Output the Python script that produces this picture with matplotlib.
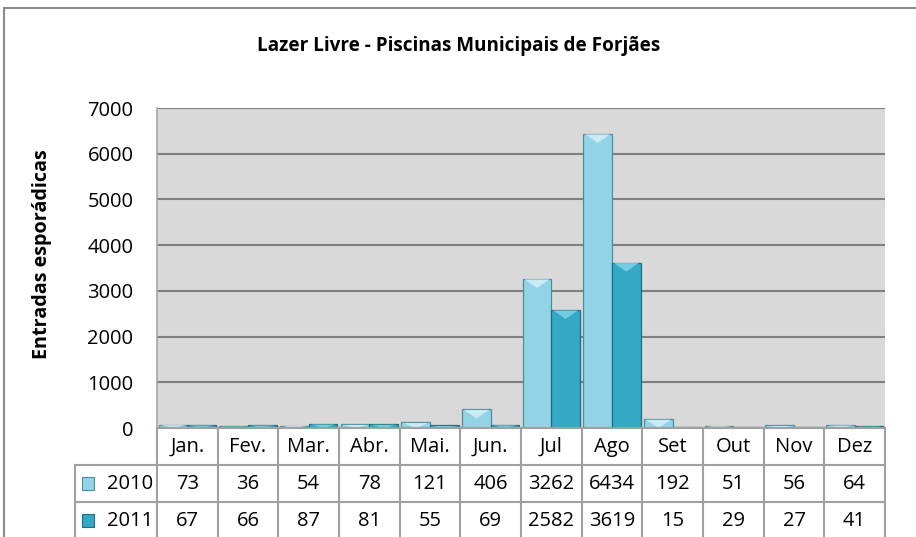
import matplotlib
matplotlib.use("Agg")
import matplotlib.pyplot as plt
from matplotlib.patches import Rectangle, Polygon
import numpy as np

months = ["Jan.", "Fev.", "Mar.", "Abr.", "Mai.", "Jun.", "Jul", "Ago", "Set", "Out", "Nov", "Dez"]
series_names = ["2010", "2011"]
values_2010 = [73, 36, 54, 78, 121, 406, 3262, 6434, 192, 51, 56, 64]
values_2011 = [67, 66, 87, 81, 55, 69, 2582, 3619, 15, 29, 27, 41]
yticks = [0, 1000, 2000, 3000, 4000, 5000, 6000, 7000]
title = "Lazer Livre - Piscinas Municipais de Forjães"
ylabel = "Entradas esporádicas"

plt.rcParams['font.family'] = ['Open Sans', 'DejaVu Sans']

W, H = 916, 537
fig = plt.figure(figsize=(W / 100, H / 100), dpi=100)

def px(x0, y0, x1, y1):
    return [x0 / W, 1 - y1 / H, (x1 - x0) / W, (y1 - y0) / H]

# outer chart border
fig.patches.append(Rectangle((4 / W, -0.1), 1.2, 1 - 8 / H + 0.1, transform=fig.transFigure,
                             fill=False, edgecolor="#8c8c8c", linewidth=1.5))

L, R, T, B = 157, 885, 108, 428
ax = fig.add_axes(px(L, T, R, B))
ax.set_facecolor("#d9d9d9")
n = len(months)
x = np.arange(n)
bw = 0.47
c10, e10, h10 = "#92d4e6", "#4a8ea0", "#d2f0f8"
c11, e11, h11 = "#33a9c6", "#1e6f84", "#7fd3e8"
ymax = 7000
bars10 = ax.bar(x - bw / 2, values_2010, width=bw, color=c10, edgecolor=e10, linewidth=0.9, zorder=3)
bars11 = ax.bar(x + bw / 2, values_2011, width=bw, color=c11, edgecolor=e11, linewidth=0.9, zorder=3)
ax.set_xlim(-0.5, n - 0.5)
ax.set_ylim(0, ymax)

# bevel highlight on top of each bar (size derived from the axes pixel scale)
bevel = 9 / (B - T) * ymax
for bars, hc in ((bars10, h10), (bars11, h11)):
    for b in bars:
        x0, w, h = b.get_x(), b.get_width(), b.get_height()
        d = min(bevel, h)
        tri = Polygon([(x0 + 0.03, h - 10), (x0 + w - 0.03, h - 10), (x0 + w / 2, h - d)],
                      closed=True, facecolor=hc, edgecolor='none', zorder=4, alpha=0.85)
        ax.add_patch(tri)

ax.set_yticks(yticks)
ax.set_yticklabels([str(v) for v in yticks], fontsize=14.5, color="#000000")
ax.tick_params(axis='y', length=0, pad=17)
ax.set_xticks([])
ax.grid(axis='y', color="#7f7f7f", linewidth=1.5, zorder=1)
ax.set_axisbelow(True)
for s in ax.spines.values():
    s.set_visible(False)
ax.spines['left'].set_visible(True)
ax.spines['left'].set_color("#a6a6a6")
ax.spines['left'].set_linewidth(1.2)

fig.text(459 / W, 1 - 46 / H, title, ha='center', va='center', fontsize=13.6, fontweight='bold')
fig.text(42 / W, 1 - 254 / H, ylabel, ha='center', va='center', rotation=90, fontsize=14.2,
         fontweight='bold')

# data table
colw = (R - L) / n
left_x = -0.5 - (L - 75) / colw
tax = fig.add_axes(px(75, 428, R, 539))
tax.set_xlim(left_x, n - 0.5)
tax.set_ylim(3, 0)
tax.axis('off')
lc, lw = "#a0a0a0", 1.5
tax.plot([-0.5, n - 0.5], [0, 0], color=lc, lw=lw, clip_on=False)
for yy in (1, 2, 3):
    tax.plot([left_x, n - 0.5], [yy, yy], color=lc, lw=lw, clip_on=False)
for k in range(n + 1):
    tax.plot([k - 0.5, k - 0.5], [0, 3], color=lc, lw=lw, clip_on=False)
tax.plot([left_x, left_x], [1, 3], color=lc, lw=lw, clip_on=False)
for i, m in enumerate(months):
    tax.text(i, 0.5, m, ha='center', va='center', fontsize=14.5)
for r, (name, vals, col, ec) in enumerate([(series_names[0], values_2010, c10, e10),
                                            (series_names[1], values_2011, c11, e11)]):
    yy = 1.5 + r
    for i, v in enumerate(vals):
        tax.text(i, yy, str(v), ha='center', va='center', fontsize=14.5)
    tax.text(-0.56, yy, name, ha='right', va='center', fontsize=14.5)
    tax.add_patch(Rectangle((left_x + 0.12, yy - 0.17), 0.2, 0.34, facecolor=col,
                            edgecolor=ec, linewidth=0.8))

fig.savefig("out.png", dpi=100)
